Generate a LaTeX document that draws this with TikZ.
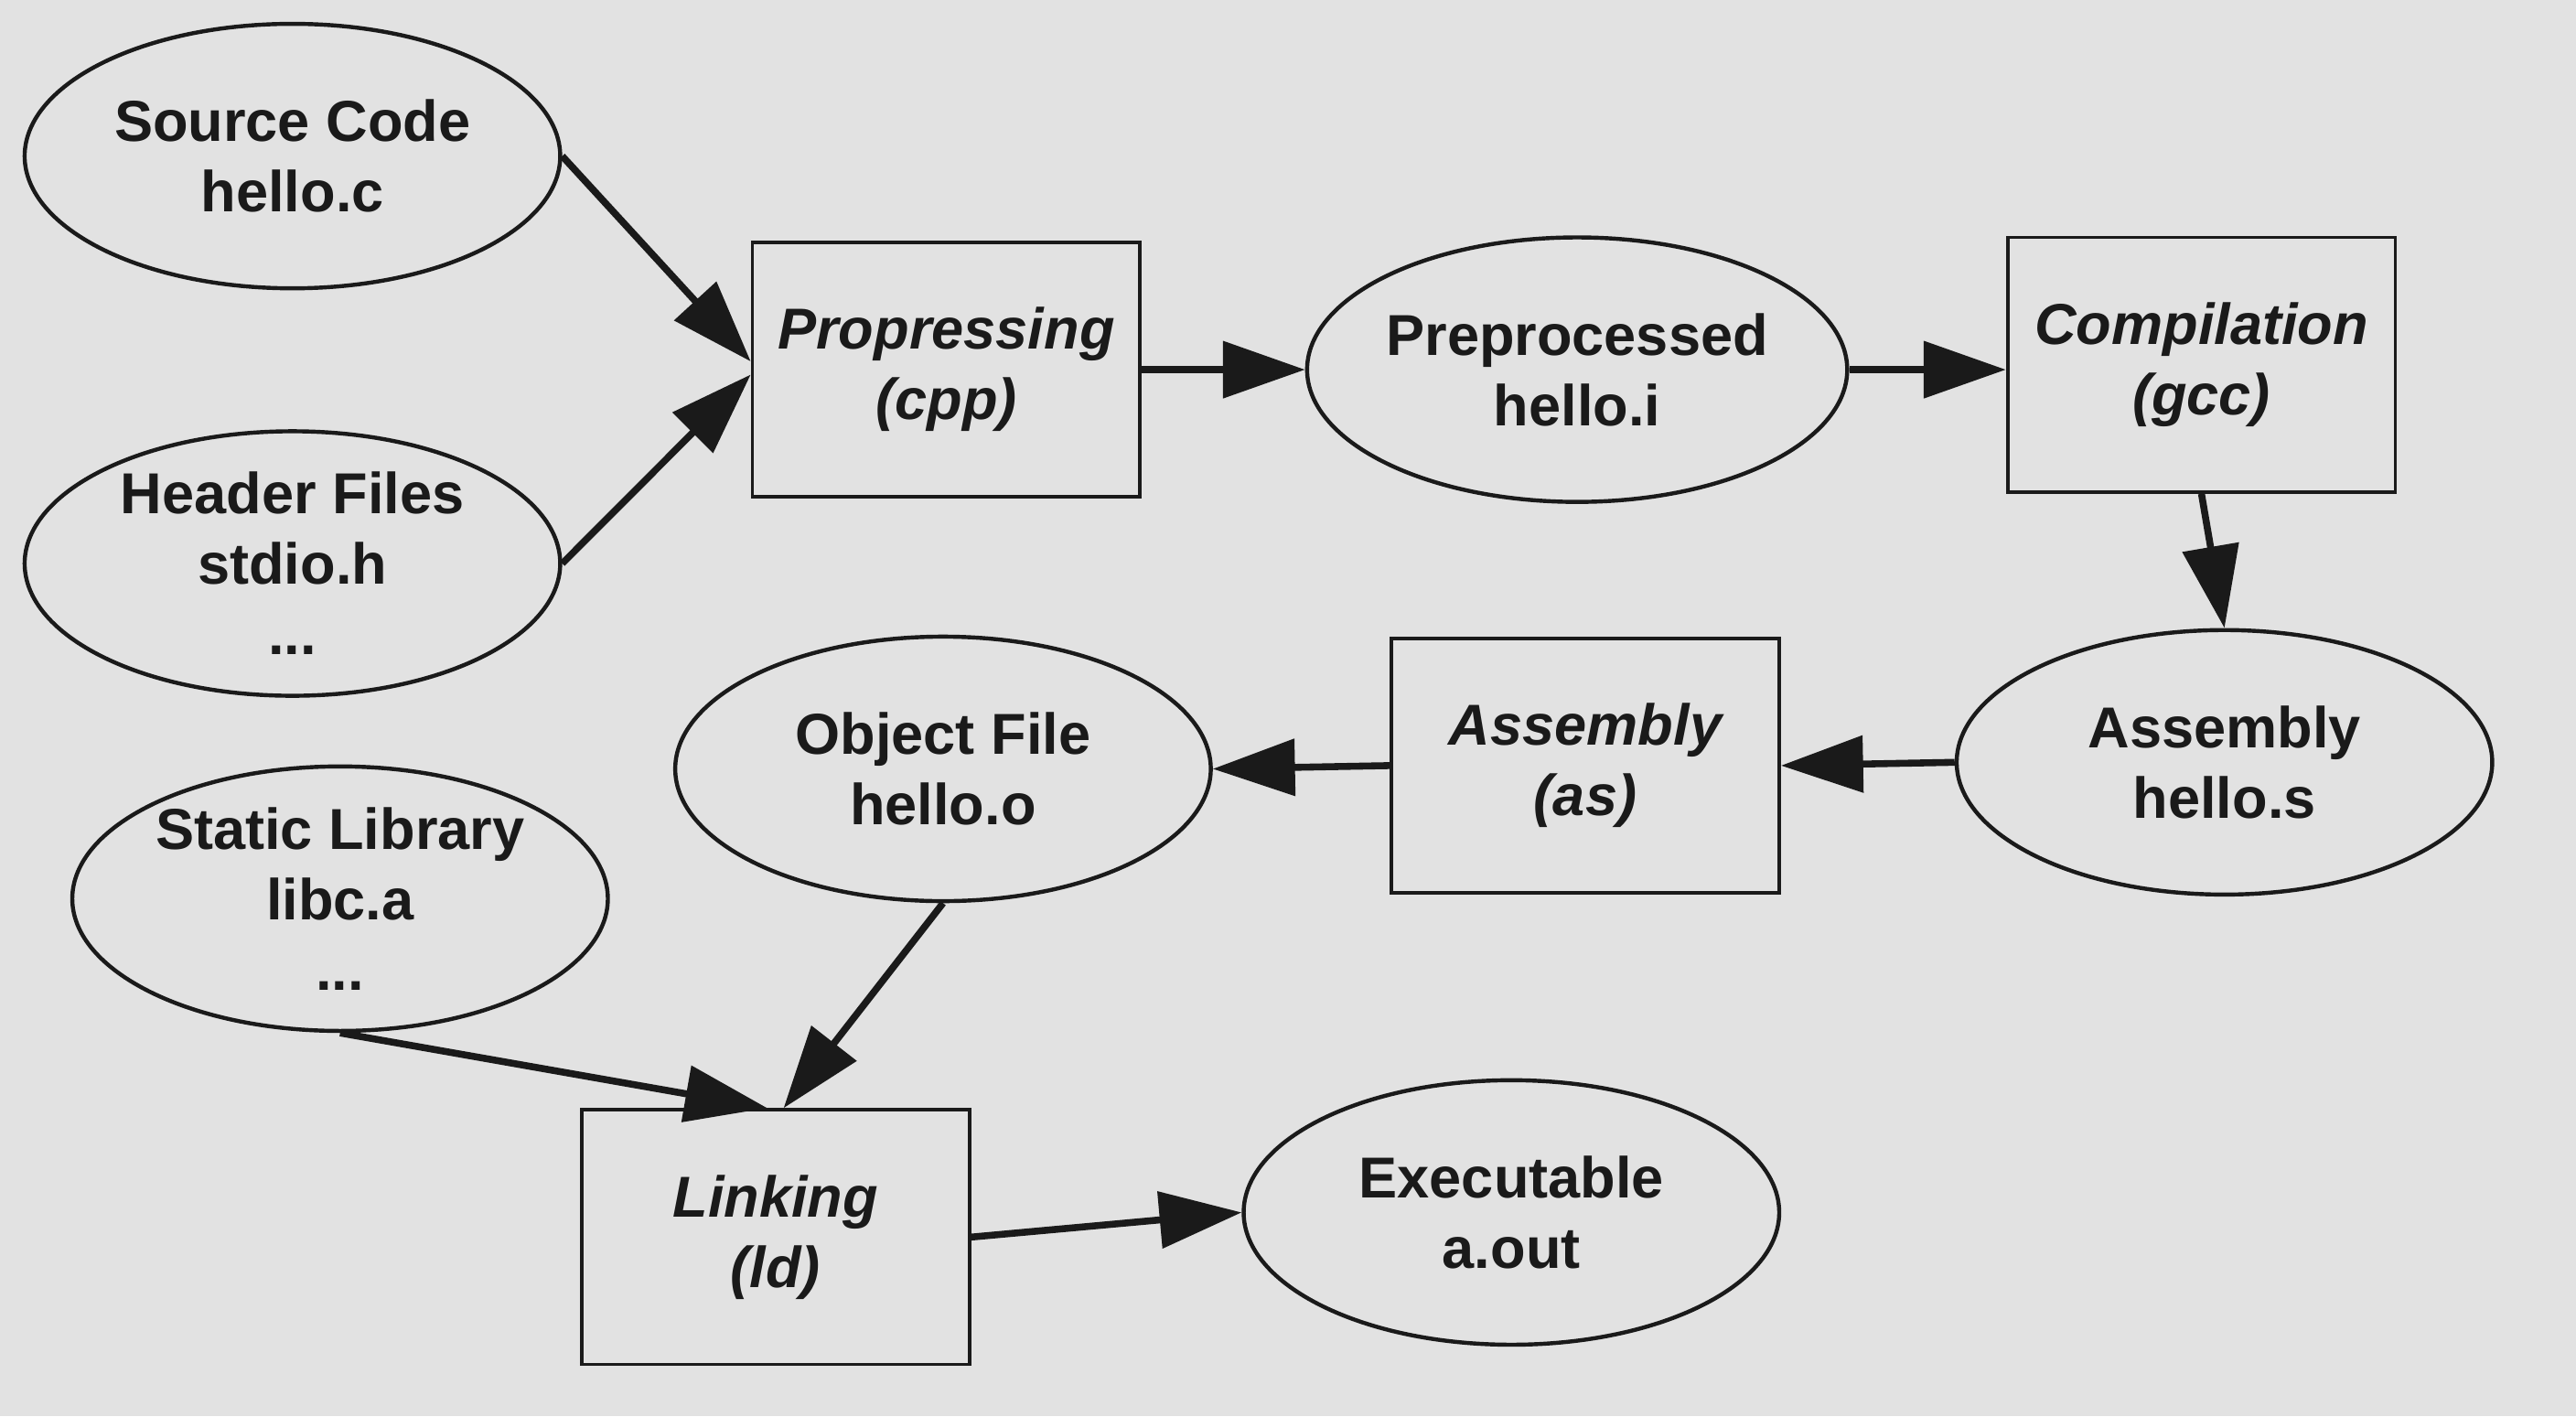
\documentclass[tikz,border=0pt]{standalone}
\usepackage{fontspec}
\setmainfont{Liberation Sans}
\usetikzlibrary{shapes.geometric, arrows.meta}
\definecolor{paper}{HTML}{E2E2E2}
\definecolor{ink}{HTML}{1A1A1A}

\begin{document}
\begin{tikzpicture}[
    file/.style={ellipse, draw=ink, line width=0.7pt, minimum width=3.26cm, minimum height=1.61cm, inner sep=0pt, align=center, text=ink, font=\fontsize{10}{12.2}\selectfont\bfseries},
    tool/.style={rectangle, draw=ink, line width=0.6pt, minimum width=2.36cm, minimum height=1.55cm, align=center, text=ink, font=\fontsize{10}{12.2}\selectfont\bfseries\itshape},
    flow/.style={draw=ink, line width=1.2pt, -{Triangle[length=5mm, width=3.4mm]}}
]
    \fill[paper] (0, 0) rectangle (15.68, 8.62);
    \useasboundingbox (0, 0) rectangle (15.68, 8.62);

    \node[file] (src) at (1.78, 7.67) {Source Code\\hello.c};
    \node[file] (hdr) at (1.78, 5.19) {Header Files\\stdio.h\\...};
    \node[tool] (prep) at (5.76, 6.37) {Propressing\\(cpp)};
    \node[file] (ppd) at (9.60, 6.37) {Preprocessed\\hello.i};
    \node[tool] (comp) at (13.40, 6.40) {Compilation\\(gcc)};
    \node[file] (asms) at (13.54, 3.98) {Assembly\\hello.s};
    \node[tool] (asm) at (9.65, 3.96) {Assembly\\(as)};
    \node[file] (obj) at (5.74, 3.94) {Object File\\hello.o};
    \node[file] (lib) at (2.07, 3.15) {Static Library\\libc.a\\...};
    \node[tool] (link) at (4.72, 1.09) {Linking\\(ld)};
    \node[file] (exe) at (9.20, 1.24) {Executable\\a.out};

    \draw[flow] (src.east) -- ([yshift=0.05cm]prep.west);
    \draw[flow] (hdr.east) -- ([yshift=-0.03cm]prep.west);
    \draw[flow] (prep.east) -- (ppd.west);
    \draw[flow] (ppd.east) -- (ppd.east -| comp.west);
    \draw[flow] (comp.south) -- (asms.north);
    \draw[flow] (asms.west) -- (asm.east);
    \draw[flow] (asm.west) -- (obj.east);
    \draw[flow] (obj.south) -- ([xshift=0.05cm]link.north);
    \draw[flow] (lib.south) -- ([xshift=-0.05cm]link.north);
    \draw[flow] (link.east) -- (exe.west);
\end{tikzpicture}
\end{document}
